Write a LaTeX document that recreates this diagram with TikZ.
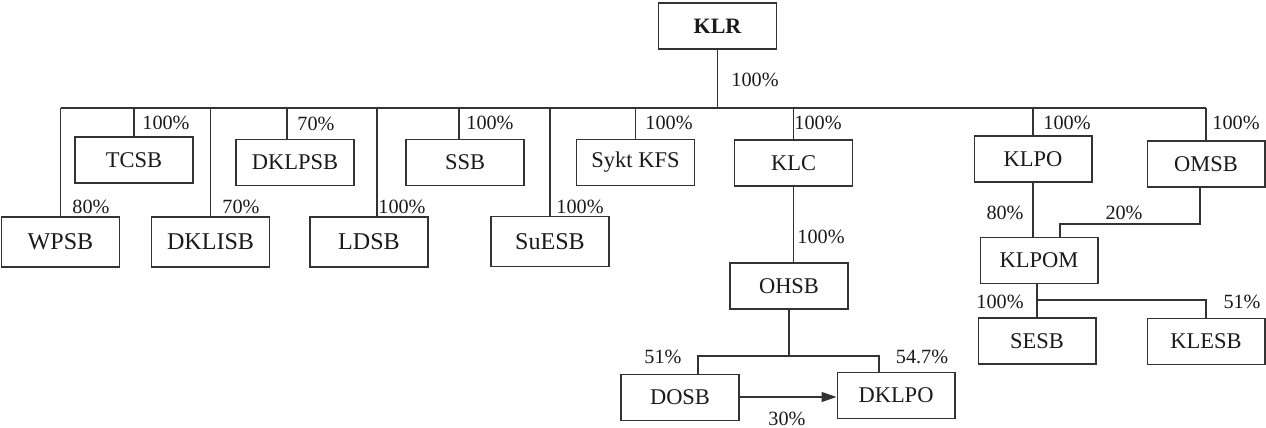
\documentclass[tikz,border=0pt]{standalone}
\usepackage{fontspec}
\setmainfont{Liberation Serif}
\usetikzlibrary{arrows.meta,positioning}
\definecolor{orgInk}{HTML}{1A1A1A}
\definecolor{orgLine}{HTML}{333333}
\tikzset{
  org box/.style={
    draw=orgLine,
    line width=.6pt,
    minimum width=2.36cm,
    minimum height=.92cm,
    inner sep=0pt,
    text=orgInk,
    font=\fontsize{12.8}{14}\selectfont
  },
  org box tall/.style={org box, minimum height=1cm, font=\fontsize{13.7}{15}\selectfont},
  org link/.style={draw=orgLine, line width=.6pt},
  org stake/.style={
    draw=orgLine,
    line width=.6pt,
    -{Triangle[length=3mm,width=2mm]}
  },
  org pct/.style={inner sep=0pt, text=orgInk, font=\fontsize{11.5}{13}\selectfont}
}

\begin{document}
\begin{tikzpicture}[x=.02cm,y=-.02cm]
  \path[use as bounding box, fill=white] (0,0) rectangle (1266,428);
  \coordinate (bus) at (0,108);
  \coordinate (ohsbSplit) at (0,356);
  \coordinate (omsbBend) at (0,224);
  \coordinate (klpomSplit) at (0,300);

  % parent
  \node[org box, font=\bfseries\fontsize{12.5}{14}\selectfont] (KLR) at (717.5,26) {KLR};

  % first row
  \node[org box] (TCSB) at (134,160) {TCSB};
  \node[org box] (DKLPSB) at (295,162.5) {DKLPSB};
  \node[org box] (SSB) at (465,162.5) {SSB};
  \node[org box] (SyktKFS) at (635.5,162.5) {Sykt KFS};
  \node[org box] (KLC) at (793.5,163) {KLC};
  \node[org box] (KLPO) at (1033,159) {KLPO};
  \node[org box] (OMSB) at (1206,164) {OMSB};

  % second row
  \node[org box tall] (WPSB) at (60.5,242) {WPSB};
  \node[org box tall] (DKLISB) at (210.5,242) {DKLISB};
  \node[org box tall] (LDSB) at (369,242) {LDSB};
  \node[org box tall] (SuESB) at (550,241.5) {SuESB};

  % lower levels
  \node[org box] (OHSB) at (789,286) {OHSB};
  \node[org box] (DOSB) at (680,397.5) {DOSB};
  \node[org box] (DKLPO) at (896,395.5) {DKLPO};
  \node[org box] (KLPOM) at (1039,260.5) {KLPOM};
  \node[org box] (SESB) at (1037,341) {SESB};
  \node[org box] (KLESB) at (1206,341.5) {KLESB};

  % bus and stems
  \draw[org link] (KLR.south) -- (KLR.south |- bus);
  \draw[org link] (WPSB.north |- bus) -- (OMSB.north |- bus);
  \foreach \n in {TCSB,SyktKFS,KLC,KLPO,OMSB,WPSB,DKLISB,SuESB}
    \draw[org link] (\n.north) -- (\n.north |- bus);
  \draw[org link] ([xshift=-.16cm]DKLPSB.north) -- ([xshift=-.16cm]DKLPSB.north |- bus);
  \draw[org link] ([xshift=-.12cm]SSB.north) -- ([xshift=-.12cm]SSB.north |- bus);
  \draw[org link] ([xshift=.16cm]LDSB.north) -- ([xshift=.16cm]LDSB.north |- bus);

  % KLC branch
  \draw[org link] (KLC.south) -- (KLC.south |- OHSB.north);
  \draw[org link] (OHSB.south) -- (OHSB.south |- ohsbSplit);
  \draw[org link] ([xshift=.36cm]DOSB.north) |- ([xshift=-.34cm]DKLPO.north |- ohsbSplit)
    -- ([xshift=-.34cm]DKLPO.north);
  \draw[org stake] (DOSB.east |- 0,397) -- (DKLPO.west |- 0,397);

  % KLPO branch
  \draw[org link] (KLPO.south) -- (KLPO.south |- KLPOM.north);
  \draw[org link] ([xshift=-.12cm]OMSB.south) |- ([xshift=.42cm]KLPOM.north |- omsbBend)
    -- ([xshift=.42cm]KLPOM.north);
  \draw[org link] (KLPOM.south -| SESB.north) -- (SESB.north);
  \draw[org link] (SESB.north |- klpomSplit) -| (KLESB.north);

  % shares
  \node[org pct] (pKLR) at (755,80) {100\%};
  \node[org pct] (pTCSB) at (166,123) {100\%};
  \node[org pct] (pDKLPSB) at (316,124) {70\%};
  \node[org pct] (pSSB) at (490,123) {100\%};
  \node[org pct] (pSyktKFS) at (669,123) {100\%};
  \node[org pct] (pKLC) at (818,123) {100\%};
  \node[org pct] (pKLPO) at (1067,123) {100\%};
  \node[org pct] (pOMSB) at (1236,123) {100\%};
  \node[org pct] (pWPSB) at (91,207) {80\%};
  \node[org pct] (pDKLISB) at (241,207) {70\%};
  \node[org pct] (pLDSB) at (402,207) {100\%};
  \node[org pct] (pSuESB) at (580,207) {100\%};
  \node[org pct] (pOHSB) at (821,237) {100\%};
  \node[org pct] (pDOSB) at (663,357) {51\%};
  \node[org pct] (pDKLPO) at (922,357) {54.7\%};
  \node[org pct] (pCross) at (787,419) {30\%};
  \node[org pct] (pKLPOM) at (1005,213) {80\%};
  \node[org pct] (pOMSBx) at (1124,213) {20\%};
  \node[org pct] (pSESB) at (1000,302) {100\%};
  \node[org pct] (pKLESB) at (1242,302) {51\%};
\end{tikzpicture}
\end{document}
